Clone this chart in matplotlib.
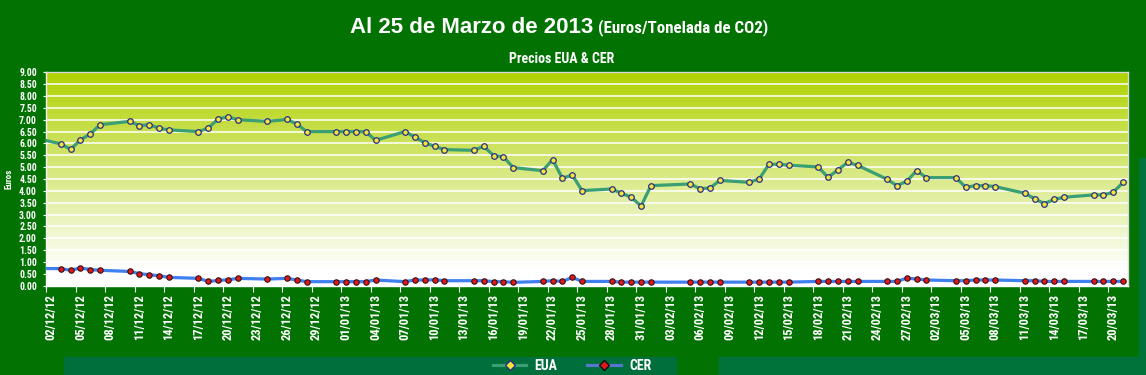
import matplotlib
matplotlib.use("Agg")
import matplotlib.pyplot as plt
import matplotlib.dates as mdates
from matplotlib.lines import Line2D
from matplotlib.patches import Rectangle
from matplotlib.ticker import FixedLocator, FuncFormatter
import numpy as np
import pandas as pd

# ---------------- data ----------------
dates = [
    "30/11/12",
    "03/12/12", "04/12/12", "05/12/12", "06/12/12", "07/12/12",
    "10/12/12", "11/12/12", "12/12/12", "13/12/12", "14/12/12",
    "17/12/12", "18/12/12", "19/12/12", "20/12/12", "21/12/12",
    "24/12/12", "26/12/12", "27/12/12", "28/12/12",
    "31/12/12", "01/01/13", "02/01/13", "03/01/13", "04/01/13",
    "07/01/13", "08/01/13", "09/01/13", "10/01/13", "11/01/13",
    "14/01/13", "15/01/13", "16/01/13", "17/01/13", "18/01/13",
    "21/01/13", "22/01/13", "23/01/13", "24/01/13", "25/01/13",
    "28/01/13", "29/01/13", "30/01/13", "31/01/13", "01/02/13",
    "05/02/13", "06/02/13", "07/02/13", "08/02/13",
    "11/02/13", "12/02/13", "13/02/13", "14/02/13", "15/02/13",
    "18/02/13", "19/02/13", "20/02/13", "21/02/13", "22/02/13",
    "25/02/13", "26/02/13", "27/02/13", "28/02/13", "01/03/13",
    "04/03/13", "05/03/13", "06/03/13", "07/03/13", "08/03/13",
    "11/03/13", "12/03/13", "13/03/13", "14/03/13", "15/03/13",
    "18/03/13", "19/03/13", "20/03/13", "21/03/13",
]

eua = [
    6.27,
    5.98, 5.75, 6.15, 6.40, 6.79,
    6.93, 6.75, 6.79, 6.64, 6.57,
    6.50, 6.65, 7.03, 7.12, 7.00,
    6.93, 7.01, 6.82, 6.50,
    6.50, 6.50, 6.50, 6.50, 6.13,
    6.50, 6.27, 6.03, 5.88, 5.74,
    5.71, 5.88, 5.49, 5.44, 4.98,
    4.85, 5.32, 4.53, 4.67, 4.01,
    4.08, 3.90, 3.73, 3.36, 4.22,
    4.29, 4.09, 4.12, 4.44,
    4.36, 4.50, 5.12, 5.12, 5.08,
    5.01, 4.57, 4.88, 5.20, 5.08,
    4.49, 4.22, 4.40, 4.85, 4.56,
    4.56, 4.15, 4.22, 4.22, 4.18,
    3.90, 3.67, 3.46, 3.64, 3.73,
    3.83, 3.83, 3.94, 4.36,
]

cer = [
    0.73,
    0.72, 0.65, 0.75, 0.68, 0.65,
    0.60, 0.51, 0.46, 0.42, 0.35,
    0.31, 0.18, 0.22, 0.25, 0.31,
    0.28, 0.31, 0.24, 0.17,
    0.17, 0.17, 0.17, 0.17, 0.24,
    0.17, 0.24, 0.24, 0.25, 0.21,
    0.21, 0.21, 0.17, 0.17, 0.14,
    0.18, 0.21, 0.18, 0.35, 0.18,
    0.18, 0.15, 0.15, 0.15, 0.15,
    0.15, 0.15, 0.15, 0.15,
    0.15, 0.15, 0.15, 0.15, 0.15,
    0.18, 0.18, 0.18, 0.18, 0.18,
    0.18, 0.18, 0.32, 0.28, 0.24,
    0.21, 0.21, 0.24, 0.24, 0.24,
    0.21, 0.21, 0.18, 0.18, 0.18,
    0.18, 0.18, 0.18, 0.18,
]

axis_start = "02/12/12"
axis_end = "21/03/13"
tick_step_days = 3

title_main = "Al 25 de Marzo de 2013"
title_unit = "(Euros/Tonelada de CO2)"
subtitle = "Precios EUA & CER"
ylabel = "Euros"
series_names = ["EUA", "CER"]

# ---------------- style ----------------
BG = "#027302"
BAND = "#00733a"
LEGBOX = "#006f3c"
EUA_LINE = "#3a9f72"
EUA_FACE = "#f2e43a"
EUA_EDGE = "#2a2f86"
CER_LINE = "#3f7ff0"
CER_FACE = "#e01818"
CER_EDGE = "#3a1010"
NARROW = ["Roboto Condensed", "PT Sans Narrow", "DejaVu Sans"]
BOLD = ["Liberation Sans", "Arimo", "DejaVu Sans"]

W, H = 1146, 375
fig = plt.figure(figsize=(W / 100, H / 100), dpi=100, facecolor=BG)


def px(x0, y0, w, h):
    # pixel box (from top-left) -> figure fraction
    return [x0 / W, 1 - (y0 + h) / H, w / W, h / H]


# background bands (as in the original layout)
fig.patches.append(Rectangle((64 / W, 0), (676 - 64) / W, (375 - 357) / H,
                             transform=fig.transFigure, color=LEGBOX, zorder=0))
fig.patches.append(Rectangle((719 / W, 0), (W - 719) / W, (375 - 357) / H,
                             transform=fig.transFigure, color=BAND, zorder=0))
fig.patches.append(Rectangle((1139 / W, 0), (W - 1139) / W, (375 - 158) / H,
                             transform=fig.transFigure, color=BAND, zorder=0))

ax = fig.add_axes(px(46, 72.3, 1082, 213.4))
ax.set_facecolor("white")

d = pd.to_datetime(dates, format="%d/%m/%y")
x0 = pd.to_datetime(axis_start, format="%d/%m/%y")
x1 = pd.to_datetime(axis_end, format="%d/%m/%y")
half = pd.Timedelta(hours=12)
ax.set_xlim(x0 - half, x1 + half)
ax.set_ylim(0, 9)

# gradient plot area
grad = np.linspace(0, 1, 256).reshape(-1, 1)
top = np.array([0.69, 0.82, 0.0])
bot = np.array([1.0, 1.0, 1.0])
g = np.clip(grad * 1.08, 0, 1)
img = top[None, None, :] * (1 - g[:, :, None]) + bot[None, None, :] * g[:, :, None]
ax.imshow(img, extent=[0, 1, 0, 1], transform=ax.transAxes, aspect="auto",
          zorder=0, interpolation="bilinear")

# grid
for yv in np.arange(0.5, 9.0, 0.5):
    ax.axhline(yv, color="white", lw=1.3, alpha=0.85, zorder=1)

ax.plot(d, eua, color=EUA_LINE, lw=2.3, marker="o", ms=4.0, mfc=EUA_FACE,
        mec=EUA_EDGE, mew=0.9, zorder=3, clip_on=True)
ax.plot(d, cer, color=CER_LINE, lw=2.3, marker="o", ms=3.9, mfc=CER_FACE,
        mec=CER_EDGE, mew=0.8, zorder=3, clip_on=True)

# y axis
ax.set_yticks(np.arange(0, 9.01, 0.5))
ax.yaxis.set_major_formatter(FuncFormatter(lambda v, p: f"{v:.2f}"))
ax.tick_params(axis="y", colors="white", length=2.2, width=0.8, pad=4.3,
               labelsize=7)
for t in ax.get_yticklabels():
    t.set_fontfamily(NARROW)
    t.set_fontweight("bold")

# x axis
tick_dates = pd.date_range(x0, x1, freq=f"{tick_step_days}D")
ax.set_xticks(tick_dates)
ax.set_xticklabels([t.strftime("%d/%m/%y") for t in tick_dates], rotation=90,
                   fontsize=9, fontweight="bold", color="white", family=NARROW)
ax.xaxis.set_minor_locator(FixedLocator(mdates.date2num(tick_dates - half)))
ax.tick_params(axis="x", which="major", length=0, pad=6)
ax.tick_params(axis="x", which="minor", length=4, width=0.8, colors="white")

for s in ["left", "bottom"]:
    ax.spines[s].set_color("white")
    ax.spines[s].set_linewidth(1.0)
for s in ["top", "right"]:
    ax.spines[s].set_color("#d8d8d8")
    ax.spines[s].set_linewidth(1.0)

ax.set_ylabel(ylabel, color="white", fontsize=6.5, fontweight="bold",
              family=NARROW, labelpad=4)

# titles
fig.text(350 / W, 1 - 33 / H, title_main, color="white", fontsize=16,
         fontweight="bold", family=BOLD, ha="left", va="baseline")
fig.text(598 / W, 1 - 32.5 / H, title_unit, color="white", fontsize=12.2,
         fontweight="bold", family=NARROW, ha="left", va="baseline")
fig.text(561.5 / W, 1 - 63.3 / H, subtitle, color="white", fontsize=10,
         fontweight="bold", family=NARROW, ha="center", va="baseline")

# legend
handles = [
    Line2D([], [], color=EUA_LINE, lw=2.3, marker="D", ms=5.5, mfc=EUA_FACE,
           mec=EUA_EDGE, mew=1.0),
    Line2D([], [], color="#5577cc", lw=2.3, marker="D", ms=5.5, mfc=CER_FACE,
           mec="#111111", mew=1.0),
]
leg = fig.legend(handles, series_names, loc="center", ncol=2,
                 bbox_to_anchor=(572 / W, 1 - 366 / H), frameon=False,
                 handlelength=2.4, columnspacing=2.15, handletextpad=0.6,
                 borderpad=0, borderaxespad=0,
                 prop={"family": NARROW, "weight": "bold", "size": 10})
for t in leg.get_texts():
    t.set_color("white")

fig.savefig("out.png", dpi=100, facecolor=BG)
